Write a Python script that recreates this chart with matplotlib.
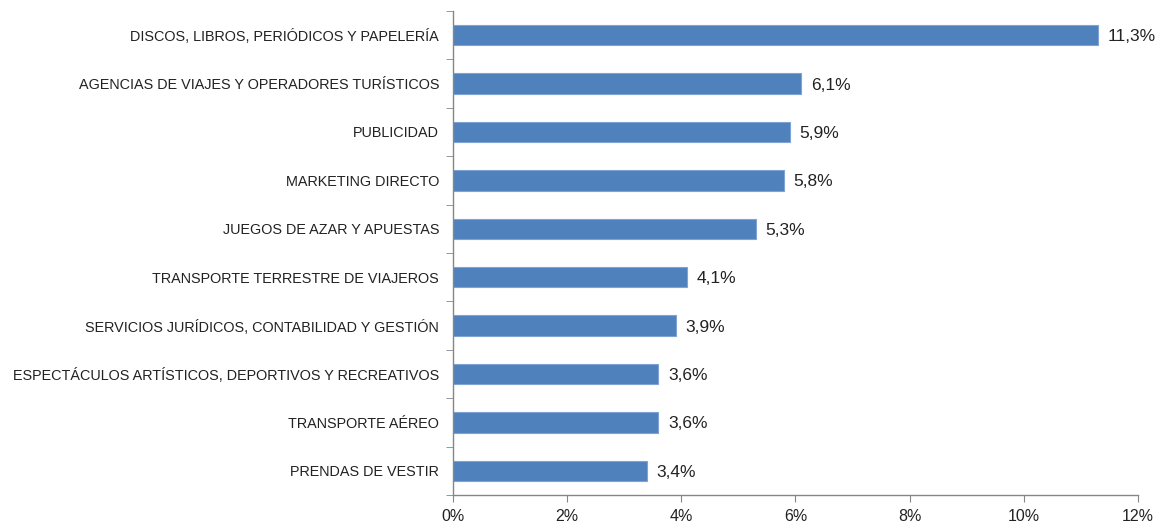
import numpy as np
import matplotlib
matplotlib.use("Agg")
import matplotlib.pyplot as plt
from matplotlib.ticker import FixedLocator, FuncFormatter

categories = [
    "DISCOS, LIBROS, PERIÓDICOS Y PAPELERÍA",
    "AGENCIAS DE VIAJES Y OPERADORES TURÍSTICOS",
    "PUBLICIDAD",
    "MARKETING DIRECTO",
    "JUEGOS DE AZAR Y APUESTAS",
    "TRANSPORTE TERRESTRE DE VIAJEROS",
    "SERVICIOS JURÍDICOS, CONTABILIDAD Y GESTIÓN",
    "ESPECTÁCULOS ARTÍSTICOS, DEPORTIVOS Y RECREATIVOS",
    "TRANSPORTE AÉREO",
    "PRENDAS DE VESTIR",
]
values = [11.3, 6.1, 5.9, 5.8, 5.3, 4.1, 3.9, 3.6, 3.6, 3.4]
xticks = [0, 2, 4, 6, 8, 10, 12]

plt.rcParams['font.family'] = ['Liberation Sans', 'DejaVu Sans']

fig = plt.figure(figsize=(11.65, 5.22), dpi=100)
ax = fig.add_axes([0.3888, 0.0517, 0.588, 0.9273])

n = len(categories)
ypos = np.arange(n)[::-1]
ax.barh(ypos, values, height=0.42, color="#4F81BD", edgecolor="#7FA3D4", linewidth=0.8)

# data labels with decimal comma
for y, v in zip(ypos, values):
    ax.text(v + 0.17, y - 0.03, f"{v:.1f}%".replace(".", ","), va="center", ha="left",
            fontsize=12.5, color="#222222")

ax.set_xlim(0, 12)
ax.set_ylim(-0.5, n - 0.5)
ax.set_xticks(xticks)
ax.xaxis.set_major_formatter(FuncFormatter(lambda x, p: f"{x:.0f}%"))
ax.set_yticks(ypos)
ax.set_yticklabels(categories)
ax.yaxis.set_minor_locator(FixedLocator(np.arange(-0.5, n, 1.0)))

ax.tick_params(axis="y", which="major", length=0, pad=10, labelsize=10.4, labelcolor="#222222")
ax.tick_params(axis="y", which="minor", length=5, color="#868686", direction="out")
ax.tick_params(axis="x", which="major", length=5, color="#868686", labelsize=11.5,
               labelcolor="#222222", pad=5)

for s in ["top", "right"]:
    ax.spines[s].set_visible(False)
for s in ["left", "bottom"]:
    ax.spines[s].set_color("#868686")
    ax.spines[s].set_linewidth(1)

fig.savefig("out.png", dpi=100)
